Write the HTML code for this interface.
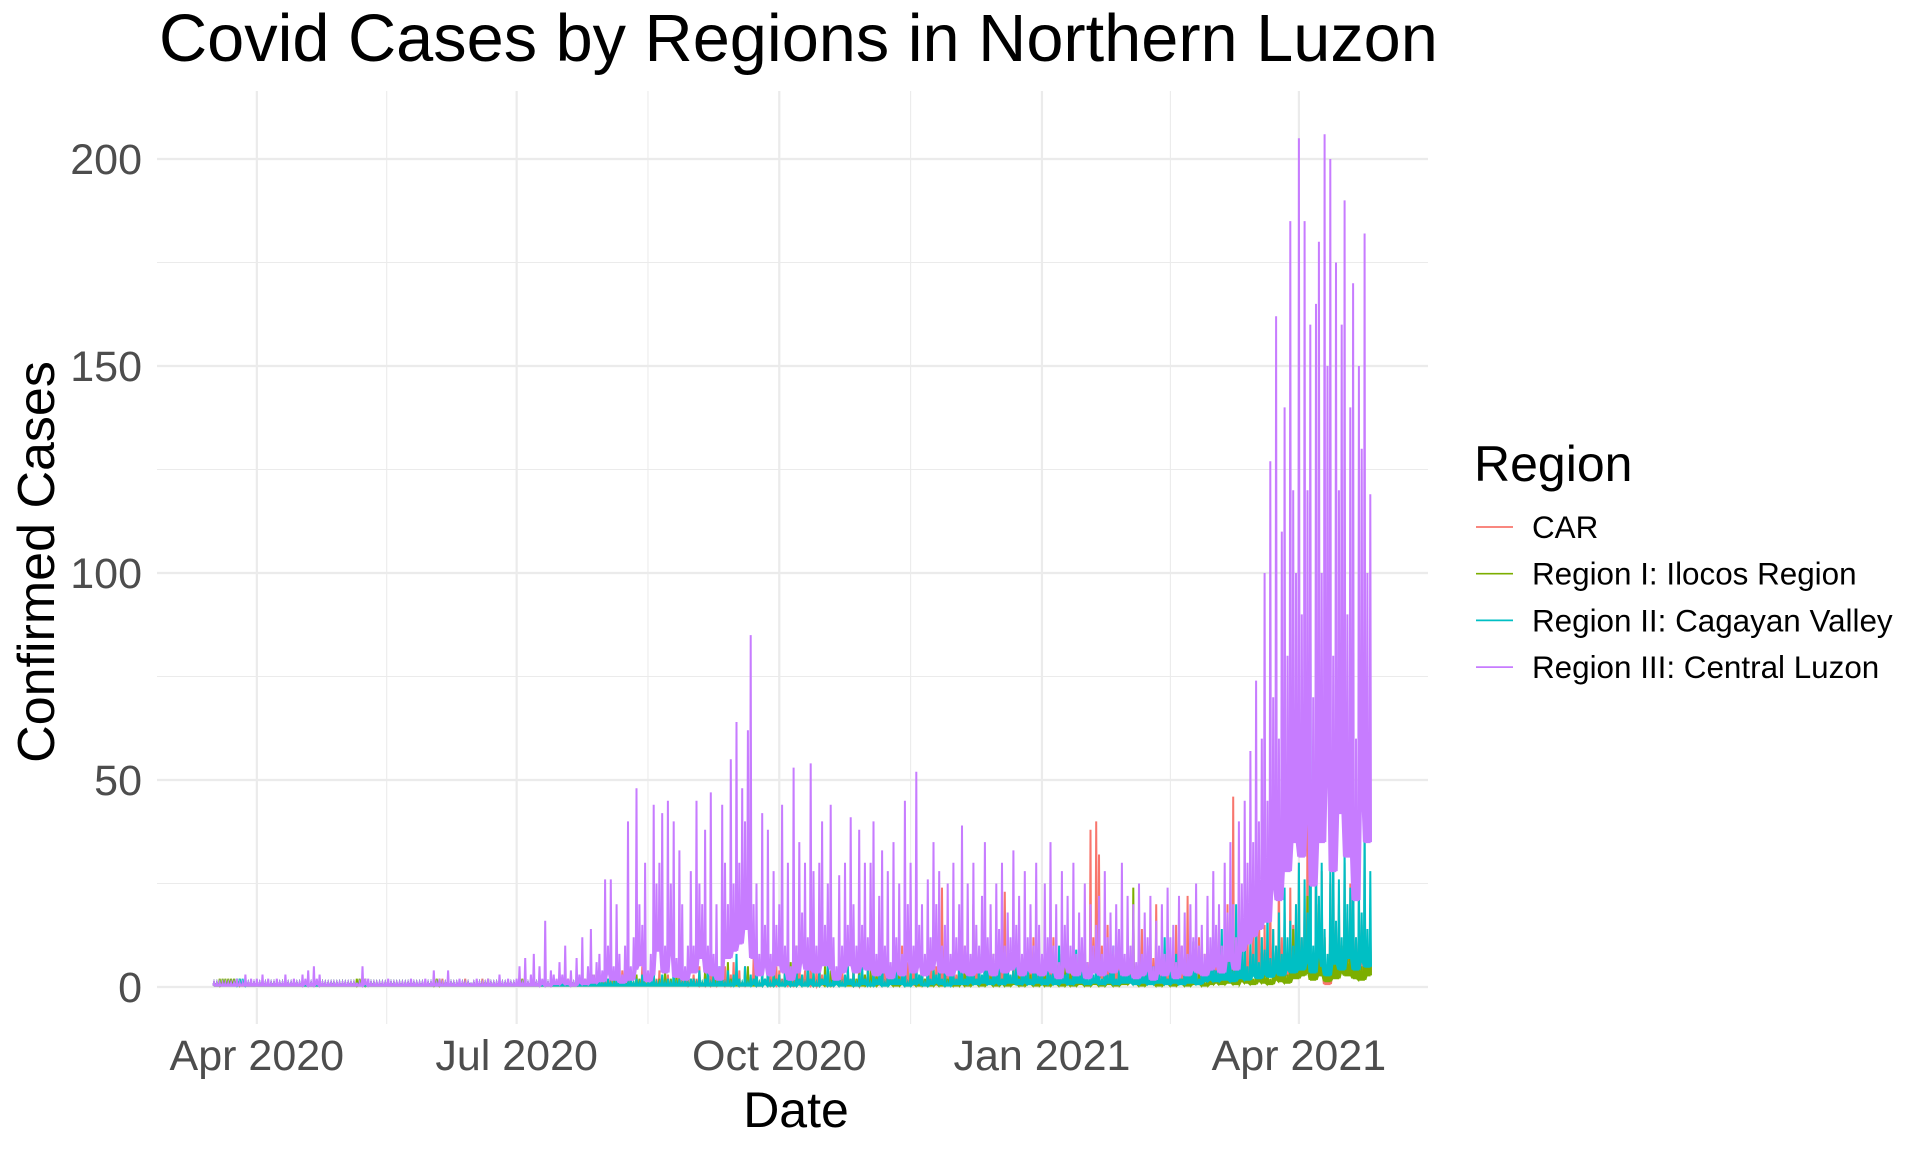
<!DOCTYPE html>
<html><head><meta charset="utf-8"><style>
html,body{margin:0;padding:0;background:#fff;}
svg{display:block;font-family:"Liberation Sans",Arial,sans-serif;}
</style></head><body>
<svg id="chart" width="1920" height="1152" viewBox="0 0 1920 1152" xmlns="http://www.w3.org/2000/svg">
<rect width="1920" height="1152" fill="#fff"/>
<g id="grid"></g>
<g id="series"></g>
<g id="axes"></g>
<text x="159" y="61" font-size="66.7" fill="#000">Covid Cases by Regions in Northern Luzon</text>
<text x="796" y="1127" font-size="50" text-anchor="middle" fill="#000">Date</text>
<text transform="translate(54,562) rotate(-90)" font-size="52" text-anchor="middle" fill="#000">Confirmed Cases</text>
<g>
<text x="1474" y="481" font-size="50" fill="#000">Region</text>
<g id="legend-items"></g>
</g>
</svg>
<script>
const categories = ["CAR", "Region I: Ilocos Region", "Region II: Cagayan Valley", "Region III: Central Luzon"];
const startDate = "2020-03-17";
const xTickDays = [15, 106, 198, 290, 380];
const xTickLabels = ["Apr 2020", "Jul 2020", "Oct 2020", "Jan 2021", "Apr 2021"];
const yTicks = [0, 50, 100, 150, 200];
const yTickLabels = ["0", "50", "100", "150", "200"];

const carValues = [
1,1,1,1,1,1,1,1,1,1,1,1,1,1,1,1,1,1,1,1,1,1,1,1,1,1,1,1,1,1,
1,1,1,1,1,1,1,1,1,1,1,1,1,1,1,1,1,1,1,1,1,1,1,1,1,1,1,1,1,1,
1,1,1,1,1,1,1,1,1,1,1,1,1,1,1,1,1,1,1,1,2,1,1,1,1,1,1,1,2,1,
1,1,1,1,2,1,1,1,1,1,1,1,1,1,1,1,
1,2,1,1,1,2,1,1,2,1,1,1,2,1,1,3,1,1,2,1,1,2,1,1,1,2,1,3,1,1,2,
2,1,3,1,2,1,4,1,2,3,1,2,1,5,2,1,3,1,2,4,1,2,3,1,2,1,4,2,1,3,2,
3,2,5,1,3,2,6,1,3,4,2,5,1,3,6,2,4,1,5,3,2,7,3,1,4,2,6,3,1,5,
4,2,7,3,1,5,2,8,3,4,2,6,1,4,9,3,2,5,1,8,4,2,6,3,5,2,7,1,4,3,3,
5,2,8,3,6,2,9,4,3,7,2,5,10,3,6,2,8,4,3,7,2,6,9,3,5,2,24,4,6,3,
5,3,8,4,10,3,6,12,4,7,3,9,5,11,3,6,4,8,23,5,3,7,4,10,6,3,8,5,12,4,6,
4,9,3,7,12,5,8,3,10,6,4,14,5,9,3,8,6,38,12,40,32,10,6,15,4,8,11,5,9,3,7,
5,10,3,8,14,6,4,12,7,20,5,9,3,11,6,8,15,4,10,7,22,5,9,6,12,4,8,10,
6,12,8,15,5,10,20,7,46,12,9,18,6,14,10,20,8,25,12,15,9,22,14,10,30,12,18,8,24,15,20,
30,12,22,40,15,8,35,18,28,12,2,25,38,15,20,10,30,18,25,40,12,22,15,35,10,15
];
const ilocosValues = [
1,1,2,2,2,2,2,2,2,2,1,1,1,1,1,1,1,1,1,1,1,1,1,1,1,1,1,1,1,1,
1,1,1,1,1,1,1,1,1,1,1,1,1,1,1,1,1,1,1,1,2,2,2,2,1,1,1,1,1,1,
1,1,1,1,1,1,1,1,1,1,1,1,1,1,1,1,1,2,2,2,1,1,1,1,1,1,1,1,1,1,
1,1,1,1,1,1,2,1,1,1,1,1,1,1,1,1,
1,1,2,1,1,1,2,1,1,1,2,1,1,1,1,2,1,1,1,2,1,1,1,1,2,1,1,3,1,1,2,
1,2,1,3,1,2,1,4,1,2,1,3,2,1,5,1,2,3,1,2,1,4,1,2,1,3,2,1,4,1,2,
2,1,3,1,4,2,1,5,2,1,3,1,6,2,1,4,2,1,3,5,1,2,8,1,3,2,4,1,5,2,
3,1,4,2,6,1,10,2,3,1,5,2,4,1,3,2,5,1,4,2,3,6,1,2,4,1,3,2,5,1,3,
2,4,1,3,5,2,1,4,2,6,1,3,2,5,1,4,2,3,1,5,2,4,1,6,2,3,1,4,2,5,
3,1,4,2,6,1,3,20,2,4,1,5,2,3,8,1,4,2,6,1,3,5,2,4,1,7,2,3,5,1,4,
2,5,1,3,6,2,4,1,8,2,5,1,3,7,2,4,1,6,2,3,5,1,9,2,4,6,1,3,5,2,4,
3,24,2,5,1,4,7,2,3,6,1,4,8,2,5,1,3,6,2,4,1,5,8,2,3,6,1,4,
2,5,3,7,2,4,8,3,5,2,6,4,9,3,5,2,7,4,10,3,6,2,8,5,12,4,7,3,10,14,6,
18,8,14,22,10,5,16,20,8,12,4,18,24,6,14,10,20,8,15,22,6,12,5,18,8,12
];
const cagayanValues = [
1,1,1,1,1,1,1,1,2,2,2,2,1,1,1,1,1,1,1,1,1,1,1,1,1,1,1,1,1,1,
1,1,1,1,1,1,1,1,1,1,1,1,1,1,1,1,1,1,1,1,1,1,1,1,1,1,1,1,1,1,
1,1,1,1,1,1,1,1,1,1,1,1,1,1,1,1,1,1,1,1,1,1,1,1,1,1,1,1,1,1,
1,1,1,1,1,1,1,1,1,1,1,1,1,1,1,1,
1,1,1,1,1,1,1,1,1,1,1,1,1,1,1,1,1,1,1,1,1,1,1,1,1,2,1,1,1,2,1,
1,2,1,1,3,1,2,1,1,4,1,2,1,3,1,1,2,4,1,1,3,1,2,1,5,1,2,1,3,1,2,
2,1,4,1,2,6,1,3,1,5,2,1,4,1,3,8,2,1,5,1,3,2,12,1,4,2,6,1,3,2,
3,1,5,2,4,1,6,2,3,1,8,2,4,1,5,2,3,7,1,4,2,6,1,3,5,2,4,1,3,6,2,
4,1,6,2,3,8,1,5,2,4,10,2,3,6,1,4,2,8,3,5,1,7,2,4,3,9,2,5,1,6,
3,2,7,4,2,9,3,5,2,8,3,15,4,2,6,3,8,2,5,10,3,4,7,2,5,3,9,2,6,4,3,
5,2,8,3,6,2,10,4,3,7,2,5,9,3,4,12,2,6,3,8,4,2,7,3,5,10,2,4,6,3,8,
3,6,2,8,4,3,10,2,5,7,3,4,12,2,6,3,8,5,2,9,4,3,11,5,2,7,4,6,
5,10,4,8,14,5,7,12,4,20,6,9,15,5,11,8,18,6,12,9,21,7,14,10,18,8,24,12,16,10,20,
30,12,26,18,117,10,36,22,30,14,8,28,38,16,26,12,34,20,24,38,12,26,18,40,14,28
];
const centralLuzonValues = [
1,1,1,1,1,1,1,1,2,1,1,3,1,2,1,
2,1,3,1,2,1,1,2,1,1,3,1,1,2,1,
1,3,2,4,1,5,2,3,1,1,1,1,1,1,1,
1,1,1,1,1,1,1,5,2,2,1,1,1,1,1,
1,2,1,1,1,1,1,1,1,2,1,1,1,1,2,
1,1,4,1,2,1,1,4,1,1,1,2,1,1,1,
1,1,2,1,1,1,2,1,1,1,3,1,1,2,1,1,
2,5,1,7,1,3,8,1,5,2,16,1,4,3,2,6,3,10,2,4,1,7,3,12,2,5,14,3,6,8,4,
26,10,26,5,20,8,3,10,40,5,12,48,20,15,30,4,8,44,25,30,42,10,45,25,40,7,33,20,5,10,28,
10,45,25,20,38,10,47,8,20,5,44,30,20,55,25,64,30,48,40,62,85,20,25,8,42,15,38,8,28,15,
20,44,10,30,5,53,10,35,18,30,12,54,28,10,30,40,15,25,44,12,5,27,10,30,15,41,20,10,38,15,30,
12,30,40,8,22,33,10,28,6,35,12,25,8,45,20,30,10,52,15,20,8,26,12,35,20,28,10,15,25,8,
30,12,20,39,10,25,8,30,15,10,22,35,12,20,8,25,14,30,10,18,12,33,15,22,8,28,12,20,10,30,15,
8,25,12,35,10,20,6,28,15,22,10,30,8,18,12,25,6,20,10,15,22,8,28,12,18,10,20,14,30,8,22,
10,20,6,25,8,18,12,22,5,16,10,20,8,24,12,15,6,22,10,18,8,20,12,25,10,15,8,22,
12,28,15,20,10,30,18,35,20,12,40,25,45,30,57,
35,74,40,60,100,45,127,70,162,60,110,140,80,185,120,100,
205,90,185,120,160,70,165,180,100,206,150,200,80,175,120,160,190,90,140,170,60,150,130,182,100,119
];
const seriesValues = [carValues, ilocosValues, cagayanValues, centralLuzonValues];
const seriesColors = ["#F8766D", "#7CAE00", "#00BFC4", "#C77CFF"];

const NS = "http://www.w3.org/2000/svg";
const panel = {left: 157, right: 1428, top: 91, bottom: 1024};
function xScale(d) { return 214 + d * 2.855; }
function yScale(v) { return 987 - v * 4.14; }
function mk(tag, attrs, parent) {
  const el = document.createElementNS(NS, tag);
  for (const k in attrs) el.setAttribute(k, attrs[k]);
  parent.appendChild(el);
  return el;
}
const grid = document.getElementById('grid');
for (let i = 0; i < yTicks.length - 1; i++) {
  const v = (yTicks[i] + yTicks[i + 1]) / 2;
  const l = mk('line', {x1: panel.left, x2: panel.right, y1: yScale(v), y2: yScale(v), stroke: '#EBEBEB', 'stroke-width': 1.1}, grid);
  
  
}
for (let i = 0; i < xTickDays.length - 1; i++) {
  const d = (xTickDays[i] + xTickDays[i + 1]) / 2;
  const l = mk('line', {x1: xScale(d), x2: xScale(d), y1: panel.top, y2: panel.bottom, stroke: '#EBEBEB', 'stroke-width': 1.1}, grid);
  
  
}
const axes = document.getElementById('axes');
yTicks.forEach((v, i) => {
  const l = mk('line', {x1: panel.left, x2: panel.right, y1: yScale(v), y2: yScale(v), stroke: '#EBEBEB', 'stroke-width': 2.2}, grid);
  
  
  const t = mk('text', {x: 142, y: yScale(v) + 15, 'font-size': 43, 'text-anchor': 'end', fill: '#4D4D4D'}, axes);
  t.textContent = yTickLabels[i];
  
  
});
xTickDays.forEach((d, i) => {
  const l = mk('line', {x1: xScale(d), x2: xScale(d), y1: panel.top, y2: panel.bottom, stroke: '#EBEBEB', 'stroke-width': 2.2}, grid);
  
  
  const t = mk('text', {x: xScale(d), y: 1070, 'font-size': 43, 'text-anchor': 'middle', fill: '#4D4D4D'}, axes);
  t.textContent = xTickLabels[i];
  
  
});
const series = document.getElementById('series');
seriesValues.forEach((vals, s) => {
  const pts = [];
  vals.forEach((v, d) => {
    const lo = 0.35 * Math.min(v, d > 0 ? vals[d - 1] : v, d < vals.length - 1 ? vals[d + 1] : v);
    const x = xScale(d);
    pts.push((x - 0.7).toFixed(1) + ',' + yScale(lo).toFixed(1));
    pts.push(x.toFixed(1) + ',' + yScale(v).toFixed(1));
    pts.push((x + 0.7).toFixed(1) + ',' + yScale(lo).toFixed(1));
  });
  const p = mk('polyline', {points: pts.join(' '), fill: 'none', stroke: seriesColors[s], 'stroke-width': 2, 'stroke-linejoin': 'miter'}, series);
  
  
});
const leg = document.getElementById('legend-items');
categories.forEach((c, i) => {
  const y = 527 + i * 46.7;
  const l = mk('line', {x1: 1476, x2: 1513, y1: y, y2: y, stroke: seriesColors[i], 'stroke-width': 1.7}, leg);
  
  
  const t = mk('text', {x: 1532, y: y + 11, 'font-size': 31.4, fill: '#000'}, leg);
  t.textContent = c;
  
  
});
</script>
</body></html>
